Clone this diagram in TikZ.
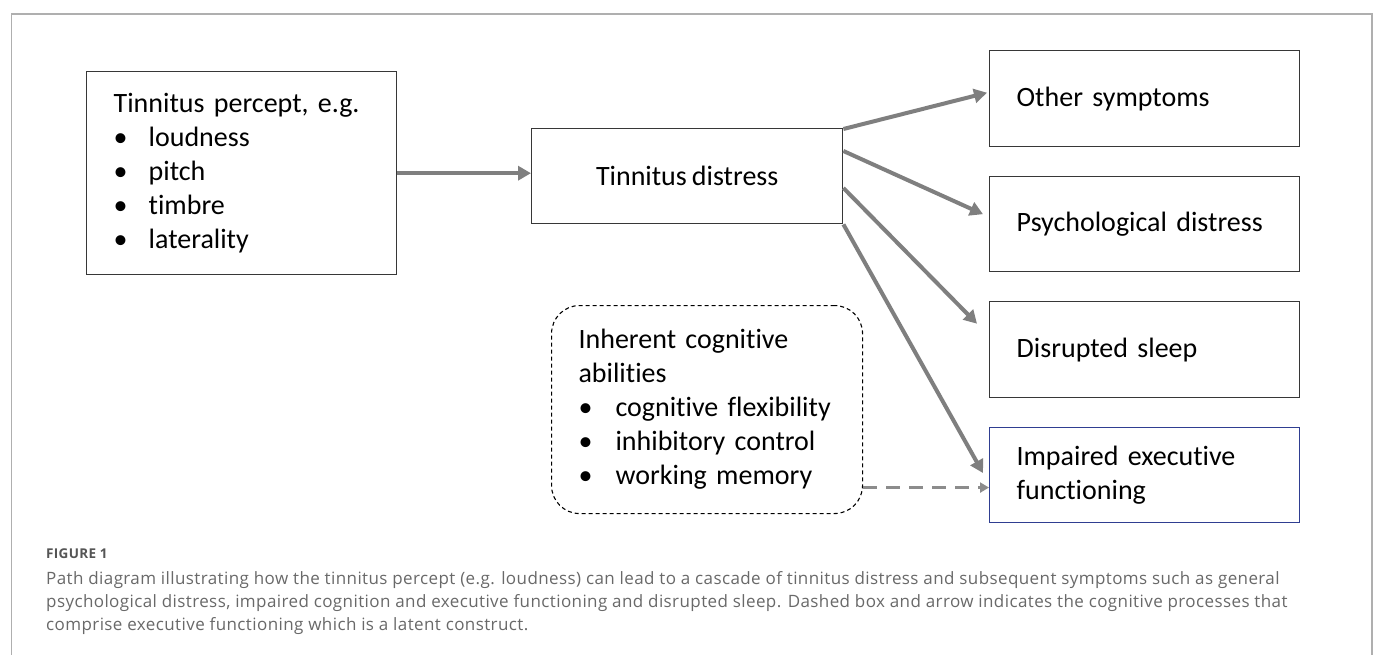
\documentclass[tikz,border=0pt]{standalone}
\usepackage{fontspec}
\setmainfont{Carlito}[WordSpace=0.8, Ligatures=NoCommon]
\newfontfamily\capfont{Open Sans}[LetterSpace=2.4]
\usetikzlibrary{arrows.meta,calc}
\definecolor{boxline}{RGB}{55,55,55}
\definecolor{arrgray}{RGB}{127,127,127}
\definecolor{dashgray}{RGB}{140,140,140}
\definecolor{bluebox}{RGB}{47,62,145}
\definecolor{framegray}{RGB}{175,175,175}
\definecolor{capgray}{RGB}{105,105,105}
\definecolor{capdark}{RGB}{85,85,85}
\newcommand{\bul}[1][35pt]{\makebox[#1][l]{\textbullet}}
\tikzset{
  box/.style={draw=boxline, line width=1.4pt, rectangle, anchor=north west,
    minimum width=310pt, inner ysep=0pt, font=\fontsize{28}{34}\selectfont},
  lbox/.style={box, text width=256pt, inner xsep=27pt, align=left},
  arr/.style={draw=arrgray, line width=4pt, -{Triangle[length=13pt,width=14pt]}},
  darr/.style={draw=dashgray, line width=3pt, dash pattern=on 14pt off 9pt, -{Triangle[length=9pt,width=10pt]}},
  captext/.style={anchor=base west, inner sep=0pt, text=capgray, font=\capfont\fontsize{17}{20}\selectfont}
}
\begin{document}
\begin{tikzpicture}[x=1pt,y=-1pt]
\useasboundingbox (0,0) rectangle (1376,655);
\fill[white] (0,0) rectangle (1376,655);
\draw[framegray, line width=1.5pt] (11.5,656) -- (11.5,14) -- (1372,14) -- (1372,656);

\node[lbox, minimum height=203pt] (percept) at (86,71)
  {Tinnitus percept, e.g.\\ \bul loudness\\ \bul pitch\\ \bul timbre\\ \bul laterality};
\node[box, minimum width=311pt, minimum height=95pt, align=center] (distress) at (531,128) {Tinnitus distress};
\node[lbox, minimum height=96pt] (other) at (989,50) {Other symptoms};
\node[lbox, minimum height=95pt] (psych) at (989,176) {Psychological distress};
\node[lbox, minimum height=96pt] (sleep) at (989,301) {Disrupted sleep};
\node[lbox, draw=bluebox, line width=1.1pt, minimum height=95pt] (impaired) at (989,427) {Impaired executive\\functioning};
\node[lbox, draw=black, line width=1.1pt, dash pattern=on 4pt off 3pt, rounded corners=28pt,
  minimum width=311pt, text width=257pt, minimum height=208pt] (cog) at (551,305)
  {Inherent cognitive\\abilities\\ \bul[37pt]cognitive flexibility\\ \bul[37pt]inhibitory control\\ \bul[37pt]working memory};

\draw[arr] (percept.east) -- (percept.east -| distress.west);
\draw[arr] ($(distress.north east)+(0,1)$) -- ($(other.west)+(-2,-6)$);
\draw[arr] ($(distress.north east)+(0,23)$) -- ($(psych.west)+(-6,-10)$);
\draw[arr] ($(distress.north east)+(0,60)$) -- ($(sleep.west)+(-12,-26)$);
\draw[arr] (distress.south east) -- ($(impaired.west)+(-6,-2)$);
\draw[darr] ($(cog.east)+(0,78)$) -- ($(impaired.west)+(0,12.5)$);

\node[anchor=base west, inner sep=0pt, text=capdark, font=\capfont\bfseries\fontsize{13.5}{16}\selectfont] (figlabel) at (46,558) {FIGURE 1};
\node[captext] (cap1) at (46,584) {Path diagram illustrating how the tinnitus percept (e.g. loudness) can lead to a cascade of tinnitus distress and subsequent symptoms such as general};
\node[captext] (cap2) at (46,607) {psychological distress, impaired cognition and executive functioning and disrupted sleep. Dashed box and arrow indicates the cognitive processes that};
\node[captext] (cap3) at (46,630) {comprise executive functioning which is a latent construct.};
\end{tikzpicture}
\end{document}
